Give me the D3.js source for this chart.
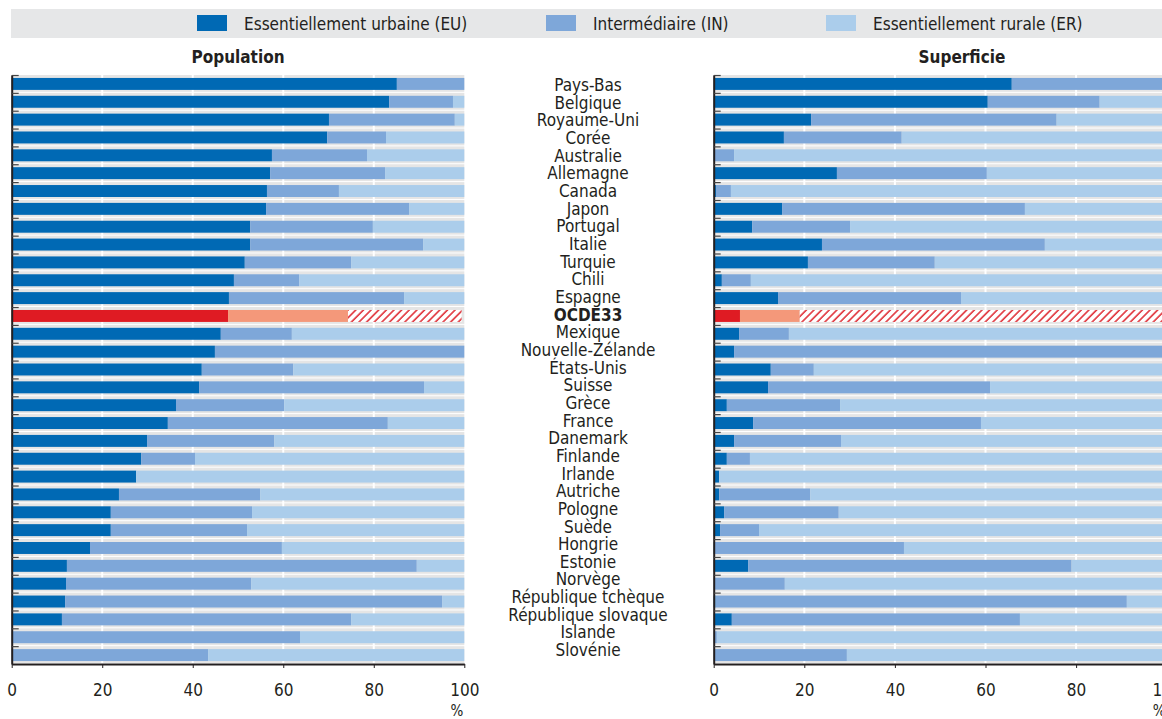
<!DOCTYPE html>
<html>
<head>
<meta charset="utf-8">
<script src="https://cdn.jsdelivr.net/npm/d3@7"></script>
<style>
  html, body { margin: 0; padding: 0; background: #ffffff; }
  svg { display: block; }
  text { font-family: "DejaVu Sans Condensed", "Liberation Sans Narrow", "DejaVu Sans", sans-serif; font-stretch: condensed; fill: #231f20; }
</style>
</head>
<body>
<svg id="chart" width="1162" height="719"></svg>
<script>
// ---------- DATA ----------
const categories = ["Pays-Bas","Belgique","Royaume-Uni","Corée","Australie","Allemagne","Canada","Japon","Portugal","Italie","Turquie","Chili","Espagne","OCDE33","Mexique","Nouvelle-Zélande","États-Unis","Suisse","Grèce","France","Danemark","Finlande","Irlande","Autriche","Pologne","Suède","Hongrie","Estonie","Norvège","République tchèque","République slovaque","Islande","Slovénie"];
const highlight = "OCDE33";
const seriesKeys = ["EU", "IN", "ER"];
const seriesNames = ["Essentiellement urbaine (EU)", "Intermédiaire (IN)", "Essentiellement rurale (ER)"];
const panelTitles = ["Population", "Superficie"];

// Population (%)
const popEU = [85.1,83.4,70.1,69.7,57.5,57.1,56.4,56.2,52.7,52.7,51.5,49.1,48.0,47.8,46.2,44.9,42.0,41.4,36.3,34.5,29.9,28.6,27.5,23.7,21.9,21.9,17.3,12.2,12.0,11.8,11.1,0,0];
const popIN = [14.9,14.1,27.8,13.0,21.0,25.4,15.9,31.6,27.1,38.2,23.5,14.4,38.7,26.5,15.7,55.1,20.2,49.7,23.9,48.6,28.1,11.9,0,31.2,31.2,30.1,42.4,77.3,40.9,83.3,63.9,63.7,43.4];
const popER = [0,2.5,2.1,17.3,21.5,17.5,27.7,12.2,20.2,9.1,25.0,36.5,13.3,25.1,38.1,0,37.8,8.9,39.8,16.9,42.0,59.5,72.5,45.1,46.9,48.0,40.3,10.5,47.1,4.9,25.0,36.3,56.6];

// Superficie (%)
const supEU = [65.8,60.5,21.5,15.5,0.2,27.2,0.5,15.1,8.5,23.9,20.8,1.8,14.2,5.8,5.6,4.5,12.6,12.0,2.9,8.7,4.5,2.9,1.2,1.2,2.3,1.4,0.2,7.6,0,0.4,4.0,0,0];
const supIN = [34.2,24.7,54.2,26.0,4.3,33.1,3.3,53.6,21.6,49.2,28.0,6.4,40.4,13.2,11.0,95.5,9.5,49.0,25.0,50.3,23.6,5.1,0,20.1,25.3,8.6,41.8,71.4,15.7,90.8,63.6,0.7,29.4];
const supER = [0,14.8,24.3,58.5,95.5,39.7,96.2,31.3,69.9,26.9,51.2,91.8,45.4,81.0,83.4,0,77.9,39.0,72.1,41.0,71.9,92.0,98.8,78.7,72.4,90.0,58.0,21.0,84.3,8.8,32.4,99.3,70.6];

const xTicks = [0, 20, 40, 60, 80, 100];
const unitLabel = "%";

// ---------- STYLE / LAYOUT ----------
const colors = { EU: "#0069b4", IN: "#7ea7d9", ER: "#abcdeb" };
const hlColors = { EU: "#df1b23", IN: "#f4987a", ER: "url(#hatch)" };
const bandGrey = "#e5e5e5";
const axisColor = "#231f20";

const svg = d3.select("#chart");
const W = 1162;

const defs = svg.append("defs");
const pat = defs.append("pattern")
  .attr("id", "hatch").attr("patternUnits", "userSpaceOnUse")
  .attr("width", 5.4).attr("height", 5.4)
  .attr("patternTransform", "rotate(45)");
pat.append("rect").attr("width", 5.4).attr("height", 5.4).attr("fill", "#ffffff");
pat.append("line").attr("x1", 1).attr("y1", 0).attr("x2", 1).attr("y2", 5.4)
  .attr("stroke", "#e0323a").attr("stroke-width", 1.6);

// Legend band
svg.append("rect").attr("x", 11).attr("y", 9).attr("width", W - 11).attr("height", 29).attr("fill", "#e6e7e8");
const legendX = [197, 546, 826];
seriesKeys.forEach((k, i) => {
  const g = svg.append("g").attr("transform", `translate(${legendX[i]},0)`);
  g.append("rect").attr("x", 0).attr("y", 15).attr("width", 30).attr("height", 16).attr("fill", colors[k]);
  g.append("text").attr("x", 47).attr("y", 30).attr("font-size", 17).text(seriesNames[i]);
});

const plotTop = 75, plotBottom = 664;
const y = d3.scaleBand().domain(categories).range([plotTop, plotBottom]).paddingInner(0.33).paddingOuter(0.165);
const rowScale = d3.scaleLinear().domain([0, categories.length]).range([plotTop, plotBottom]);
const labelY = d3.scalePoint().domain(categories).range([85, 650]);
const step = y.step();

const panels = [
  { title: panelTitles[0], x0: 11.7, x1: 464.3, titleX: 238, EU: popEU, IN: popIN, ER: popER },
  { title: panelTitles[1], x0: 713.7, x1: 1166.7, titleX: 962, EU: supEU, IN: supIN, ER: supER }
];

panels.forEach(p => {
  const x = d3.scaleLinear().domain([0, 100]).range([p.x0, p.x1]);
  const rows = categories.map((c, i) => ({ cat: c, EU: p.EU[i], IN: p.IN[i], ER: p.ER[i] }));
  const stacked = d3.stack().keys(seriesKeys)(rows);
  const g = svg.append("g");

  // title
  g.append("text").attr("x", p.titleX).attr("y", 63).attr("text-anchor", "middle")
    .attr("font-size", 17).attr("font-weight", "bold").text(p.title);

  // grey row bands
  g.append("g").selectAll("rect").data(categories).join("rect")
    .attr("x", x(0)).attr("width", x(100) - x(0))
    .attr("y", d => y(d) - y.paddingOuter() * step)
    .attr("height", step - 1)
    .attr("fill", bandGrey);

  // white gridlines
  g.append("g").selectAll("line").data(xTicks.filter(t => t > 0 && t < 100)).join("line")
    .attr("x1", d => x(d)).attr("x2", d => x(d))
    .attr("y1", plotTop).attr("y2", plotBottom)
    .attr("stroke", "#ffffff").attr("stroke-width", 2);

  // bars
  stacked.forEach(layer => {
    g.append("g").selectAll("rect").data(layer).join("rect")
      .attr("x", d => x(d[0]))
      .attr("width", d => Math.max(0, x(d[1]) - x(d[0])))
      .attr("y", d => y(d.data.cat))
      .attr("height", y.bandwidth())
      .attr("fill", d => d.data.cat === highlight ? hlColors[layer.key] : colors[layer.key]);
  });

  // y axis (ticks pointing inward, at row boundaries)
  const yAxis = d3.axisLeft(rowScale)
    .tickValues(d3.range(0, categories.length))
    .tickFormat("")
    .tickSizeInner(-7).tickSizeOuter(0);
  const ya = g.append("g").attr("transform", `translate(${x(0)},0)`).call(yAxis);
  ya.select(".domain").attr("stroke", axisColor).attr("stroke-width", 2);
  ya.selectAll(".tick line").attr("stroke", "#444").attr("stroke-width", 1.2);

  // x axis
  const xAxis = d3.axisBottom(x).tickValues(xTicks).tickFormat(d3.format("d"))
    .tickSizeInner(4).tickSizeOuter(0).tickPadding(16);
  const xa = g.append("g").attr("transform", `translate(0,${plotBottom})`).call(xAxis);
  xa.attr("font-family", null).attr("font-size", null);
  xa.select(".domain").attr("stroke", axisColor).attr("stroke-width", 2);
  xa.selectAll(".tick line").attr("stroke", axisColor);
  xa.selectAll(".tick text").attr("font-size", 17).attr("fill", axisColor);

  g.append("text").attr("x", x(100) - 1).attr("y", 716).attr("text-anchor", "end")
    .attr("font-size", 15).text(unitLabel);
});

// category labels
svg.append("g").selectAll("text").data(categories).join("text")
  .attr("x", 588)
  .attr("y", d => labelY(d))
  .attr("dy", "0.36em")
  .attr("text-anchor", "middle")
  .attr("font-size", 17)
  .attr("font-weight", d => d === highlight ? "bold" : "normal")
  .text(d => d);
</script>
</body>
</html>
